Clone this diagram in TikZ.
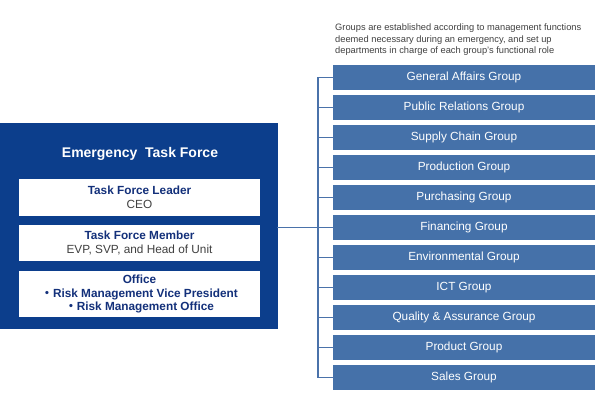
\documentclass[tikz,border=0pt]{standalone}
\usepackage{fontspec}
\setmainfont{Liberation Sans}
\newfontfamily\cjk{Noto Sans CJK JP}
\definecolor{etfblue}{HTML}{0C3E8C}
\definecolor{grpblue}{HTML}{4571A9}
\definecolor{linkblue}{HTML}{4A72AA}
\definecolor{navytext}{HTML}{13307A}
\definecolor{greytext}{HTML}{404040}
\tikzset{
  groupbox/.style={fill=grpblue, text=white, minimum width=262pt, minimum height=25pt,
    inner sep=0pt, font=\fontsize{11.8}{14}\selectfont},
  rolebox/.style={fill=white, minimum width=241pt, inner sep=0pt, align=center,
    font=\fontsize{11.8}{13.8}\selectfont},
  link/.style={draw=linkblue, line width=1.6pt}
}
\begin{document}
\begin{tikzpicture}[x=1pt, y=-1pt, line cap=rect]
\useasboundingbox (0,0) rectangle (600,411);
% === Parameters for the group column ===
\def\gx{464}   % centre of group boxes
\def\gy{77.5}  % centre of first group box
\def\dy{30}    % pitch between group boxes
\def\bx{318}   % x of the vertical bus

% === Emergency task force ===
\node[fill=etfblue, minimum width=278pt, minimum height=206pt, inner sep=0pt] (etf) at (139,226) {};
\node[text=white, font=\fontsize{14}{16}\bfseries] (title) at (140,154) {Emergency\ \ Task Force};
\node[rolebox, minimum height=37pt] (leader) at (139.5,197.5)
  {\textcolor{navytext}{\bfseries Task Force Leader}\\ \textcolor{greytext}{CEO}};
\node[rolebox, minimum height=36pt] (member) at (139.5,243)
  {\textcolor{navytext}{\bfseries Task Force Member}\\ \textcolor{greytext}{EVP, SVP, and Head of Unit}};
\node[rolebox, minimum height=46pt, text=navytext, font=\fontsize{11.8}{13.5}\selectfont\bfseries] (office) at (139.5,294)
  {Office\\ {\cjk ・}Risk Management Vice President\\ {\cjk ・}Risk Management Office};

% === Note above the groups ===
\node[anchor=north west, align=left, inner sep=0pt, text=greytext,
  font=\fontsize{9.3}{11.4}\selectfont] (note) at (335,24)
  {Groups are established according to management functions\\
   deemed necessary during an emergency, and set up\\
   departments in charge of each group's functional role};

% === Groups ===
\foreach \name [count=\i from 0] in {General Affairs Group, Public Relations Group,
    Supply Chain Group, Production Group, Purchasing Group, Financing Group,
    Environmental Group, ICT Group, Quality \& Assurance Group, Product Group, Sales Group}
  {
  \node[groupbox] (g\i) at (\gx,\gy+\i*\dy) {\name};
  \coordinate (s\i) at (\bx,\gy+\i*\dy);
  \draw[link] (s\i) -- (g\i.west);
  }

% === Bus and link to the task force ===
\draw[link] (s0) -- (s10);
\draw[link] (etf.east |- s5) -- (s5);
\end{tikzpicture}
\end{document}
